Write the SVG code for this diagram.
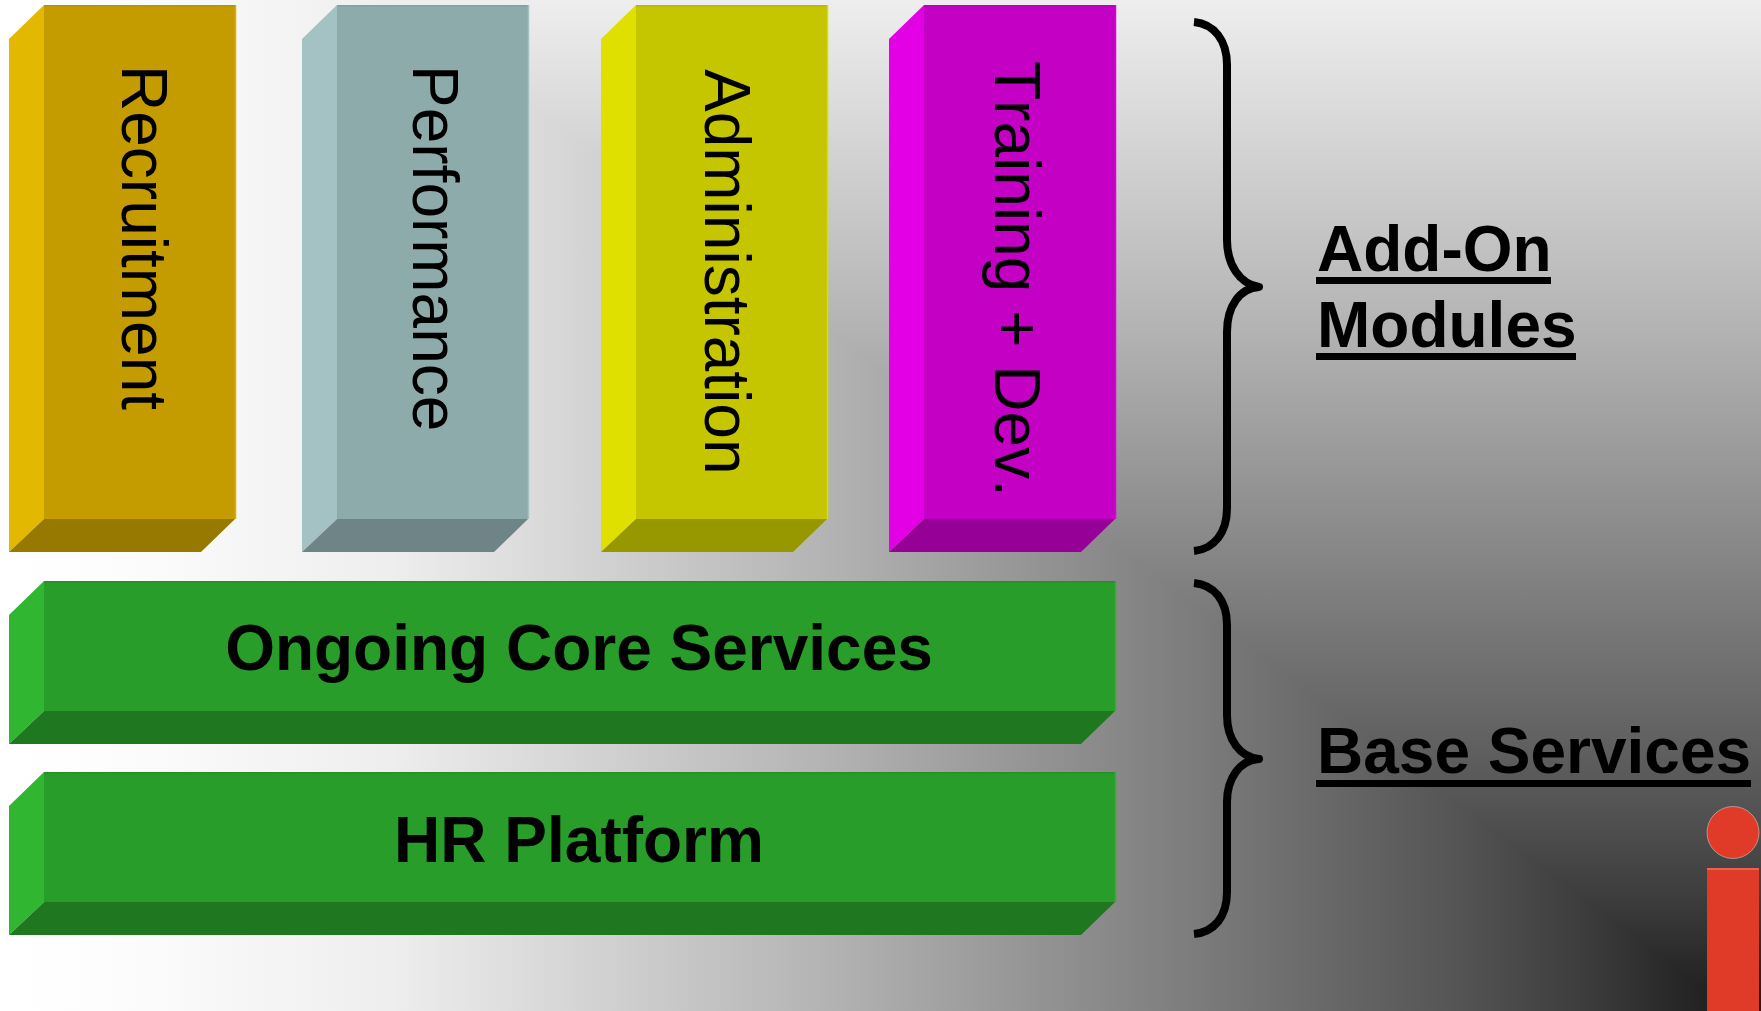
<svg xmlns="http://www.w3.org/2000/svg" width="1761" height="1011" viewBox="0 0 1761 1011">
<defs>
<linearGradient id="bgH" gradientUnits="userSpaceOnUse" x1="0" y1="0" x2="1761" y2="0">
<stop offset="0" stop-color="rgb(255,255,255)"/><stop offset="0.0625" stop-color="rgb(253,253,253)"/><stop offset="0.1914" stop-color="rgb(241,241,241)"/><stop offset="0.2215" stop-color="rgb(238,238,238)"/><stop offset="0.4747" stop-color="rgb(178,178,178)"/><stop offset="0.7501" stop-color="rgb(105,105,105)"/><stop offset="0.8257" stop-color="rgb(85,85,85)"/><stop offset="0.9012" stop-color="rgb(60,60,60)"/><stop offset="0.9563" stop-color="rgb(38,38,38)"/><stop offset="1" stop-color="rgb(26,26,26)"/>
</linearGradient>
<linearGradient id="bgV" gradientUnits="userSpaceOnUse" x1="0" y1="0" x2="0" y2="1011">
<stop offset="0" stop-color="rgb(238,238,238)"/><stop offset="0.3314" stop-color="rgb(178,178,178)"/><stop offset="0.6924" stop-color="rgb(105,105,105)"/><stop offset="0.7913" stop-color="rgb(85,85,85)"/><stop offset="0.8902" stop-color="rgb(60,60,60)"/><stop offset="0.9624" stop-color="rgb(38,38,38)"/><stop offset="1" stop-color="rgb(30,30,30)"/>
</linearGradient>
<style>
text{font-family:"Liberation Sans",Arial,sans-serif;fill:#000}
.v{font-size:64px;font-kerning:none}
.b{font-size:64px;font-weight:bold}
.brace{fill:none;stroke:#000;stroke-width:8;stroke-linejoin:round}
.hl{fill:none;stroke-width:1.5}
</style>
</defs>
<g id="background" style="isolation:isolate">
<rect width="1761" height="1011" fill="url(#bgH)"/>
<rect width="1761" height="1011" fill="url(#bgV)" style="mix-blend-mode:lighten"/>
</g>
<g id="recruitment">
<polygon points="9,39 44,5 44,519 9,552" fill="#e2b800"/>
<polygon points="9,552 44,519 235,519 201,552" fill="#977800"/>
<rect x="44" y="5" width="192" height="514" fill="#c49c00"/>
<path class="hl" d="M44,5.7H236" stroke="#b89300"/><path class="hl" d="M235.5,5V519" stroke="#dcb000"/>
<text class="v" transform="translate(122,65) rotate(90)">Recruitment</text>
</g>
<g id="performance">
<polygon points="302,39 337,5 337,519 302,552" fill="#a4c1c4"/>
<polygon points="302,552 337,519 528,519 494,552" fill="#6f8486"/>
<rect x="337" y="5" width="192" height="514" fill="#8eabab"/>
<path class="hl" d="M337,5.7H529" stroke="#83a0a2"/><path class="hl" d="M528.5,5V519" stroke="#a4c1c4"/>
<text class="v" transform="translate(413,65) rotate(90)">Performance</text>
</g>
<g id="administration">
<polygon points="601,39 636,5 636,519 601,552" fill="#e0e000"/>
<polygon points="601,552 636,519 827,519 793,552" fill="#979700"/>
<rect x="636" y="5" width="192" height="514" fill="#c5c500"/>
<path class="hl" d="M636,5.7H828" stroke="#b8b800"/><path class="hl" d="M827.5,5V519" stroke="#dcdc00"/>
<text class="v" transform="translate(705,69) rotate(90)">Administration</text>
</g>
<g id="training">
<polygon points="889,39 924,5 924,519 889,552" fill="#e400e4"/>
<polygon points="889,552 924,519 1115,519 1081,552" fill="#960096"/>
<rect x="924" y="5" width="192" height="514" fill="#c400c4"/>
<path class="hl" d="M924,5.7H1116" stroke="#b800b8"/><path class="hl" d="M1115.5,5V519" stroke="#dc00dc"/>
<text class="v" transform="translate(995,61) rotate(90)">Training + Dev.</text>
</g>
<g id="core-services">
<polygon points="9,615 44,581 44,711 9,744" fill="#30b630"/>
<polygon points="9,744 44,711 1115,711 1081,744" fill="#1f7820"/>
<rect x="44" y="581" width="1072" height="130" fill="#289d2a"/>
<path class="hl" d="M44,581.7H1116" stroke="#249025"/><path class="hl" d="M1115.5,581V711" stroke="#30b030"/>
<text class="b" x="579" y="670" text-anchor="middle">Ongoing Core Services</text>
</g>
<g id="hr-platform">
<polygon points="9,806 44,772 44,902 9,935" fill="#30b630"/>
<polygon points="9,935 44,902 1115,902 1081,935" fill="#1f7820"/>
<rect x="44" y="772" width="1072" height="130" fill="#289d2a"/>
<path class="hl" d="M44,772.7H1116" stroke="#249025"/><path class="hl" d="M1115.5,772V902" stroke="#30b030"/>
<text class="b" x="579" y="862" text-anchor="middle">HR Platform</text>
</g>
<g id="connectors">
<path class="brace" d="M1194,22C1214,24 1227,40 1227,65V240C1227,265 1240,284 1259,287C1240,288 1227,306 1227,332V508C1227,533 1214,549 1194,551"/>
<path class="brace" d="M1194,583C1214,585 1227,600 1227,625V715C1227,740 1240,757 1259,759C1240,760 1227,778 1227,802V892C1227,917 1214,932 1194,934"/>
</g>
<g id="add-on-label">
<text class="b" x="1317" y="271">Add-On</text>
<rect x="1316" y="277" width="235" height="7"/>
<text class="b" x="1317" y="347">Modules</text>
<rect x="1316" y="353" width="260" height="7"/>
</g>
<g id="base-label">
<text class="b" x="1317" y="773">Base Services</text>
<rect x="1316" y="780" width="435" height="7"/>
</g>
<g id="logo">
<circle cx="1733" cy="832.5" r="26" fill="#e03a28" stroke="#fff" stroke-opacity=".4" stroke-width="1"/>
<rect x="1707" y="868" width="52" height="143" fill="#e03a28"/>
<rect x="1707" y="868" width="52" height="2" fill="#f0604f"/>
</g>
</svg>
